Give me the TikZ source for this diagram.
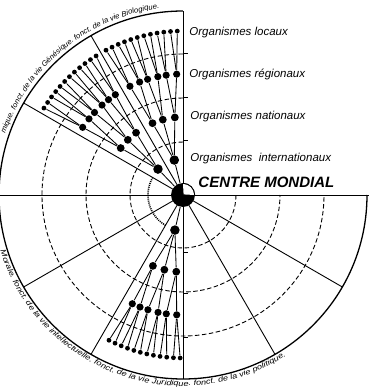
\documentclass[tikz,border=0pt]{standalone}
\usepackage{fontspec}
\setmainfont{Liberation Sans}
\usetikzlibrary{decorations.text}
\begin{document}
\begin{tikzpicture}[
  line width=0.9pt,
  ring/.style={dash pattern=on 4.5pt off 2.5pt, line width=0.9pt},
  dotring/.style={dash pattern=on 1pt off 1pt, line width=1.6pt},
  outer/.style={line width=1.3pt},
  leaf/.style={circle, fill=black, inner sep=0pt, minimum size=4.8pt},
  lvthree/.style={circle, fill=black, inner sep=0pt, minimum size=7.2pt},
  lvtwo/.style={circle, fill=black, inner sep=0pt, minimum size=7.8pt},
  lvone/.style={circle, fill=black, inner sep=0pt, minimum size=9.5pt},
  edge/.style={line width=0.85pt},
  lbl/.style={font=\itshape\fontsize{11.5}{13}\selectfont, anchor=west, inner sep=0pt},
  arctext/.style 2 args={decorate, decoration={text along path, text align=left, text={|\itshape\fontsize{7.5}{8}\selectfont\addfontfeature{FakeStretch=#1}|#2}}},
]
\useasboundingbox (-183pt,-194pt) rectangle (188pt,195pt);

% dashed rings
\foreach \r in {53,97,141}
  \draw[ring] (90:\r pt) arc[start angle=90, end angle=360, radius=\r pt];
\draw[dotring] (150:35pt) arc[start angle=150, end angle=240, radius=35pt];

% outer arc and axes
\coordinate (N) at (90:184pt);
\coordinate (S) at (270:184pt);
\coordinate (W) at (180:184pt);
\coordinate (E) at (0:186pt);
\draw[outer] (N) arc[start angle=90, end angle=360, radius=184pt];
\draw (W) -- (E);
\draw (N) -- (S);
\foreach \a in {120,150,210,240,300,330} {
  \coordinate (R\a) at (\a:184pt);
  \draw (0,0) -- (R\a);
}
\foreach \y in {55,98,142,-57,-98,-142} {
  \coordinate (tk\y) at (0,\y pt);
  \draw (tk\y) -- ++(5pt,0);
}

% centre
\node[circle, fill=black, inner sep=0pt, minimum size=24pt] (C) at (0,0) {};
\fill[white] (0.6pt,0.6pt) -- (0:11.2pt) arc[start angle=0, end angle=90, radius=11.2pt] -- cycle;
\draw[line width=0.8pt] (0:11.7pt) arc[start angle=0, end angle=90, radius=11.7pt];

% ---- upper tree ----
\node[lvone] (u1) at (134:36pt) {};
\node[lvone] (u2) at (104:36pt) {};
\draw[edge] (C) -- (u1);
\draw[edge] (C) -- (u2);
\foreach \a/\n/\p in {143/u11/u1, 135/u12/u1, 127/u13/u1, 113/u21/u2, 105/u22/u2, 96/u23/u2} {
  \node[lvtwo] (\n) at (\a:78pt) {};
  \draw[edge] (\p) -- (\n);
}
\foreach \a/\n/\p in {146/u11a/u11, 141/u11b/u11, 137/u12a/u12, 132/u12b/u12, 128/u13a/u13, 124/u13b/u13,
                      116/u21a/u21, 111/u21b/u21, 107/u22a/u22, 102/u22b/u22, 98/u23a/u23, 93/u23b/u23} {
  \node[lvthree] (\n) at (\a:121pt) {};
  \draw[edge] (\p) -- (\n);
}
\foreach \p [count=\i from 0] in {u11a,u11b,u12a,u12b,u13a,u13b} {
  \foreach \j in {0,1} {
    \pgfmathsetmacro\ang{148-(2*\i+\j)*26/11}
    \node[leaf] (\p\j) at (\ang:164pt) {};
    \draw[edge] (\p) -- (\p\j);
  }
}
\foreach \p [count=\i from 0] in {u21a,u21b,u22a,u22b,u23a,u23b} {
  \foreach \j in {0,1} {
    \pgfmathsetmacro\ang{118-(2*\i+\j)*26/11}
    \node[leaf] (\p\j) at (\ang:164pt) {};
    \draw[edge] (\p) -- (\p\j);
  }
}

% ---- lower tree ----
\node[lvone] (d1) at (257:36pt) {};
\draw[edge] (C) -- (d1);
\foreach \a/\n in {247/d11, 256/d12, 265/d13} {
  \node[lvtwo] (\n) at (\a:77pt) {};
  \draw[edge] (d1) -- (\n);
}
\foreach \a/\n/\p in {245/d11a/d11, 249/d11b/d11, 253/d12a/d12, 258/d12b/d12, 262/d13a/d13, 267/d13b/d13} {
  \node[lvthree] (\n) at (\a:120pt) {};
  \draw[edge] (\p) -- (\n);
}
\foreach \p [count=\i from 0] in {d11a,d11b,d12a,d12b,d13a,d13b} {
  \foreach \j in {0,1} {
    \pgfmathsetmacro\ang{243+(2*\i+\j)*26/11}
    \node[leaf] (\p\j) at (\ang:163pt) {};
    \draw[edge] (\p) -- (\p\j);
  }
}

% ---- labels ----
\node[lbl] (loc) at (6pt,162pt) {Organismes locaux};
\node[lbl] (reg) at (6pt,121pt) {Organismes régionaux};
\node[lbl] (nat) at (7pt,78pt) {Organismes nationaux};
\node[lbl] (int) at (7pt,36pt) {Organismes \ internationaux};
\node[anchor=west, inner sep=0pt, font=\bfseries\itshape\fontsize{15}{17}\selectfont] (cm) at (15pt,13pt) {CENTRE MONDIAL};

% ---- texts along the rim ----
\path[arctext={1.03}{mique. fonct. de la vie Génésique. fonct. de la vie Biologique.}]
  (161:188pt) arc[start angle=161, end angle=80, radius=188pt];
\path[arctext={1.22}{Morale. fonct. de la vie intellectuelle. fonct. de la vie Juridique. fonct. de la vie politique.}]
  (197:191pt) arc[start angle=197, end angle=315, radius=191pt];
\end{tikzpicture}
\end{document}
